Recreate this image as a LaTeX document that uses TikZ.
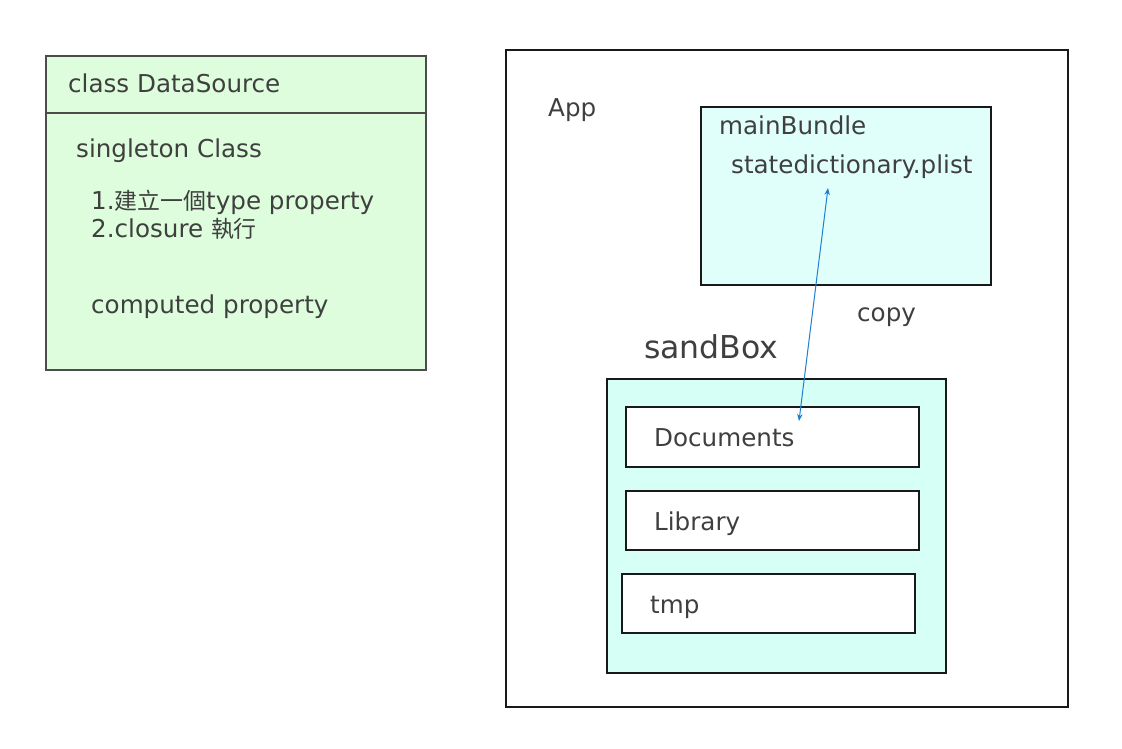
\documentclass[tikz,border=0pt]{standalone}
\usepackage{fontspec}
\setmainfont{DejaVu Sans}
\newfontfamily\cjk[Scale=0.93]{Noto Sans CJK TC}
\usetikzlibrary{arrows.meta}
\definecolor{textgray}{HTML}{3F3F3F}
\definecolor{boxgreen}{HTML}{DDFDDD}
\definecolor{bundlecyan}{HTML}{E0FFFA}
\definecolor{sandcyan}{HTML}{D6FFF5}
\definecolor{linkblue}{HTML}{1F7FCF}
\begin{document}
\begin{tikzpicture}%
	[x={(1pt,0pt)},
	y={(0pt,-1pt)},
	frame/.style={draw=black!90, line width=1.4pt},
	label/.style={anchor=base west, inner sep=0pt, text=textgray, font=\fontsize{24.6}{30}\selectfont},
	biglabel/.style={label, font=\fontsize{31.5}{36}\selectfont},
	link/.style={draw=linkblue, line width=1pt, {Stealth[length=7pt,width=5.5pt]}-{Stealth[length=7pt,width=5.5pt]}}]
%
%% Background and bounding box
\fill[white] (0,0) rectangle (1122,748);
\useasboundingbox (0,0) rectangle (1122,748);
%%
%% Class DataSource
%%
\draw[frame, draw=black!70, fill=boxgreen] (46,56) rectangle (426,370);
\draw[frame, draw=black!70] (46,113) -- (426,113);
\node[label] (classname) at (68,92) {class DataSource};
\node[label] (singleton) at (76,157) {singleton Class};
\node[label] (typeprop) at (91,209) {1.{\cjk 建立一個}type property};
\node[label] (closure) at (91,237) {2.closure {\cjk 執行}};
\node[label] (computed) at (91,313) {computed property};
%%
%% App
%%
\draw[frame] (506,50) rectangle (1068,707);
\node[label] (app) at (548,116) {App};
%%
%% mainBundle
%%
\draw[frame, fill=bundlecyan] (701,107) rectangle (991,285);
\node[label] (mainbundle) at (719,134) {mainBundle};
\node[label] (plist) at (731,173) {statedictionary.plist};
\node[label] (copy) at (857,321) {copy};
%%
%% sandBox
%%
\node[biglabel] (sandbox) at (644,358) {sandBox};
\draw[frame, fill=sandcyan] (607,379) rectangle (946,673);
\draw[frame, fill=white] (626,407) rectangle (919,467);
\node[label] (documents) at (654,446) {Documents};
\draw[frame, fill=white] (626,491) rectangle (919,550);
\node[label] (library) at (654,530) {Library};
\draw[frame, fill=white] (622,574) rectangle (915,633);
\node[label] (tmp) at (650,613) {tmp};
%%
%% copy link
%%
\coordinate (plistend) at (828,188);
\coordinate (docend) at (799,421);
\draw[link] (docend) -- (plistend);
%%
\end{tikzpicture}
\end{document}
